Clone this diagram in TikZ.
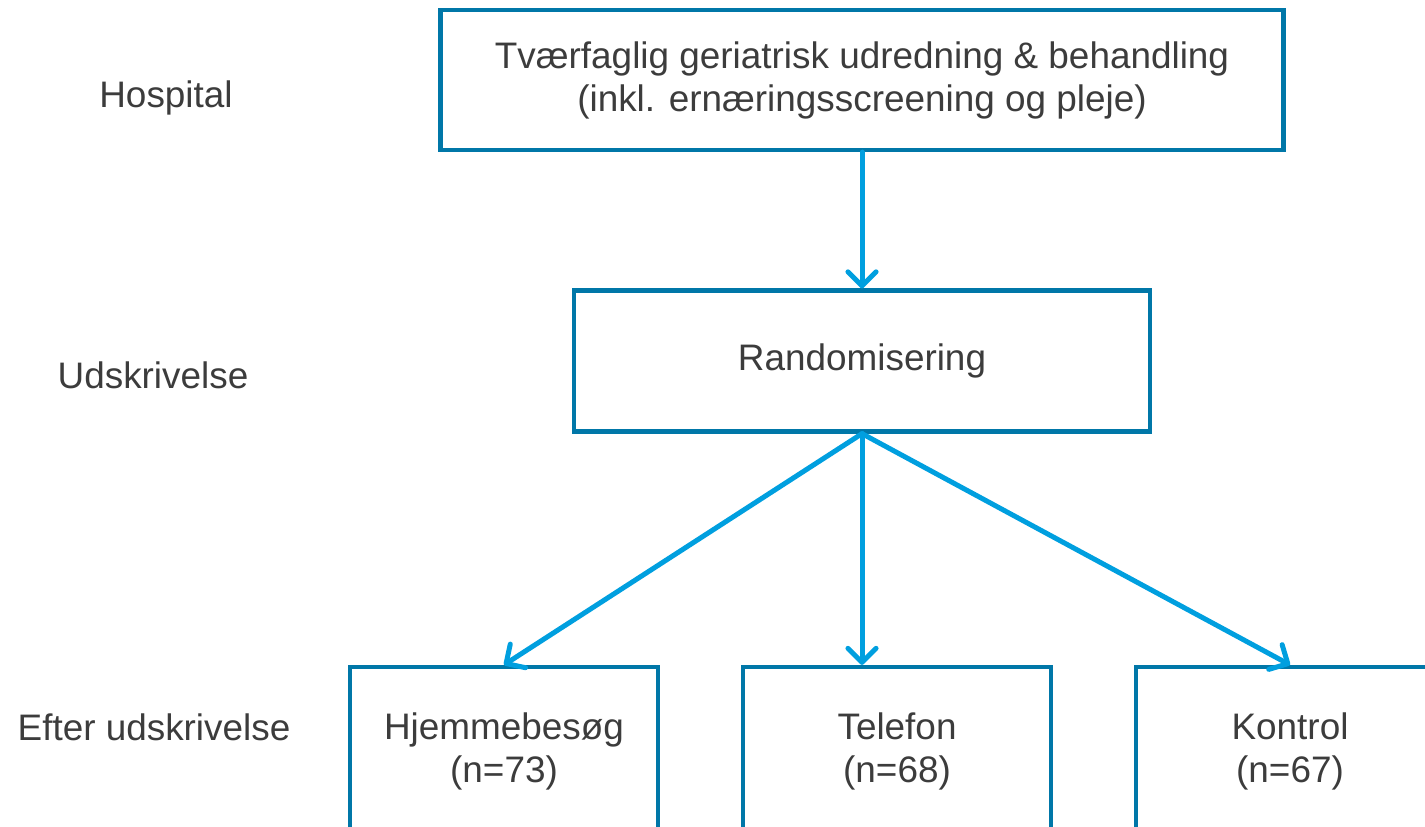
\documentclass[tikz,border=0pt]{standalone}
\usepackage{fontspec}
\setmainfont{Liberation Sans}
\usepackage{xcolor}
\usetikzlibrary{arrows.meta}
\definecolor{boxline}{HTML}{0077A8}
\definecolor{flowblue}{HTML}{009FDF}
\definecolor{textgray}{HTML}{3C3C3C}

\begin{document}
\begin{tikzpicture}[
  x=0.02cm,
  y=-0.02cm,
  every node/.style={font=\fontsize{21}{24.5}\selectfont, textgray},
  stage/.style={draw=boxline, line width=0.085cm, fill=white, align=center,
    inner sep=0pt},
  phase/.style={anchor=base, inner sep=0pt},
  flow/.style={flowblue, line width=0.1cm, line cap=round,
    -{Straight Barb[length=8pt, width=16pt, line join=round, line cap=round]}}
]
  \useasboundingbox (0,0) rectangle (1425,826);
  \clip (0,0) rectangle (1425,826);

  % ---- phases on the left ---------------------------------------------
  \node[phase] (hosp) at (166,107) {Hospital};
  \node[phase] (udsk) at (153,388) {Udskrivelse};
  \node[phase] (efter) at (154,740) {Efter udskrivelse};

  % ---- boxes -----------------------------------------------------------
  \node[stage, minimum width=843*0.02cm, minimum height=140*0.02cm]
    (tgu) at (862,80)
    {Tværfaglig geriatrisk udredning \& behandling\\(inkl. ernæringsscreening og pleje)};
  \node[stage, minimum width=576*0.02cm, minimum height=141*0.02cm]
    (rand) at (862,361) {Randomisering};

  % bottom row runs off the page
  \node[stage, minimum width=308*0.02cm, minimum height=168*0.02cm]
    (hjem) at (504,751) {Hjemmebesøg\\(n=73)};
  \node[stage, minimum width=308*0.02cm, minimum height=168*0.02cm]
    (tlf) at (897,751) {Telefon\\(n=68)};
  \node[stage, minimum width=308*0.02cm, minimum height=168*0.02cm]
    (kontrol) at (1290,751) {Kontrol\\(n=67)};

  % ---- arrows ----------------------------------------------------------
  \draw[flow] (tgu.south) -- (rand.north);
  \draw[flow] (rand.south) -- (hjem.north);
  \draw[flow] (rand.south) -- (rand.south |- tlf.north);
  \draw[flow] (rand.south) -- (kontrol.north);
\end{tikzpicture}
\end{document}
